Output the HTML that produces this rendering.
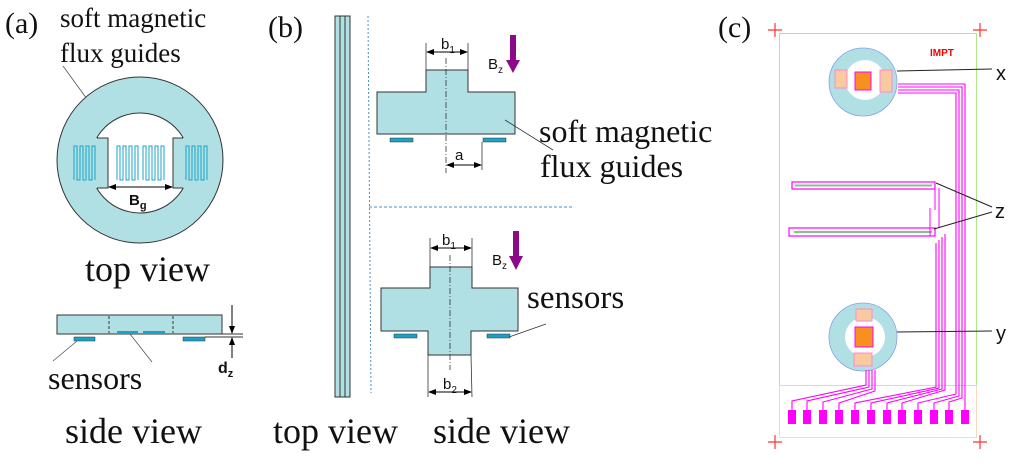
<!DOCTYPE html>
<html><head><style>body{margin:0;background:#fff}svg{display:block}</style></head><body>
<svg width="1024" height="467" viewBox="0 0 1024 467" xmlns="http://www.w3.org/2000/svg">
<defs>
<marker id="ah" markerWidth="8" markerHeight="6" refX="7" refY="3" orient="auto" markerUnits="userSpaceOnUse"><path d="M0,0L8,3L0,6z" fill="#000"/></marker>
<marker id="ahs" markerWidth="8" markerHeight="6" refX="1" refY="3" orient="auto" markerUnits="userSpaceOnUse"><path d="M8,0L0,3L8,6z" fill="#000"/></marker>
</defs>
<g font-family="Liberation Serif, serif" fill="#111">
<!-- (a) -->
<text x="5" y="33" font-size="30">(a)</text>
<text x="60" y="27" font-size="27">soft magnetic</text>
<text x="60" y="62" font-size="27">flux guides</text>
<line x1="63" y1="66" x2="95" y2="110" stroke="#555" stroke-width="0.8"/>
<circle cx="140" cy="160" r="83" fill="#b0e0e3" stroke="#333" stroke-width="1"/>
<circle cx="140" cy="163" r="50" fill="#fff" stroke="#333" stroke-width="1"/>
<rect x="88" y="138" width="20" height="50" fill="#b0e0e3"/>
<rect x="173" y="138" width="20" height="50" fill="#b0e0e3"/>
<path d="M97,138H108V188H97M183,138H173V188H183" fill="none" stroke="#333"/>
<g fill="none" stroke="#19a3c8" stroke-width="1">
<path d="M74,180V146H77V180H80V146H83V180H86V146H89V180H92V146H95V180"/>
<path d="M117,180V146H120V180H123V146H126V180H129V146H132V180H135V146H138V180"/>
<path d="M143,180V146H146V180H149V146H152V180H155V146H158V180H161V146H164V180"/>
<path d="M186,180V146H189V180H192V146H195V180H198V146H201V180H204V146H207V180"/>
</g>
<line x1="109" y1="187" x2="172" y2="187" stroke="#000" marker-end="url(#ah)" marker-start="url(#ahs)"/>
<text x="129" y="205" font-family="Liberation Sans, sans-serif" font-weight="bold" font-size="15">B<tspan font-size="11" dy="4">g</tspan></text>
<text x="85" y="281" font-size="36">top view</text>
<rect x="57" y="315" width="165" height="19" fill="#b0e0e3" stroke="#333"/>
<line x1="109" y1="316" x2="109" y2="333" stroke="#333" stroke-dasharray="3,2"/>
<line x1="173" y1="316" x2="173" y2="333" stroke="#333" stroke-dasharray="3,2"/>
<rect x="74" y="337" width="21" height="4" fill="#19a3c8" stroke="#333" stroke-width="0.5"/>
<rect x="183" y="337" width="22" height="4" fill="#19a3c8" stroke="#333" stroke-width="0.5"/>
<rect x="117" y="331" width="21" height="3" fill="#19a3c8"/>
<rect x="143" y="331" width="22" height="3" fill="#19a3c8"/>
<line x1="77" y1="341" x2="53" y2="361" stroke="#555" stroke-width="0.8"/>
<line x1="130" y1="334" x2="152" y2="362" stroke="#555" stroke-width="0.8"/>
<line x1="222" y1="334" x2="243" y2="334" stroke="#333"/>
<line x1="205" y1="337" x2="243" y2="337" stroke="#333"/>
<line x1="232" y1="305" x2="232" y2="333" stroke="#000" marker-end="url(#ah)"/>
<line x1="232" y1="358" x2="232" y2="338" stroke="#000" marker-end="url(#ah)"/>
<text x="218" y="373" font-family="Liberation Sans, sans-serif" font-weight="bold" font-size="16">d<tspan font-size="11" dy="4">z</tspan></text>
<text x="48" y="389" font-size="32">sensors</text>
<text x="65" y="443" font-size="36">side view</text>

<!-- (b) -->
<text x="268" y="37" font-size="30">(b)</text>
<rect x="335" y="16" width="15" height="381" fill="#b0e0e3" stroke="#333"/>
<line x1="340" y1="16" x2="340" y2="397" stroke="#333"/>
<line x1="345" y1="16" x2="345" y2="397" stroke="#333"/>
<line x1="368" y1="16" x2="371" y2="393" stroke="#4a90c8" stroke-dasharray="2,2"/>
<line x1="369" y1="207" x2="573" y2="207" stroke="#4a90c8" stroke-dasharray="3,2"/>
<g font-family="Liberation Sans, sans-serif">
<path d="M426,70H468V92H515V134H377V92H426Z" fill="#b0e0e3" stroke="#333"/>
<rect x="390" y="138" width="23" height="4" fill="#19a3c8" stroke="#333" stroke-width="0.5"/>
<rect x="483" y="138" width="23" height="4" fill="#19a3c8" stroke="#333" stroke-width="0.5"/>
<line x1="446" y1="58" x2="446" y2="173" stroke="#333" stroke-dasharray="6,2,1,2" stroke-width="0.8"/>
<line x1="426" y1="43" x2="426" y2="70" stroke="#333" stroke-width="0.8"/>
<line x1="468" y1="43" x2="468" y2="70" stroke="#333" stroke-width="0.8"/>
<line x1="427" y1="52" x2="467" y2="52" stroke="#000" marker-end="url(#ah)" marker-start="url(#ahs)"/>
<text x="441" y="49" font-size="15">b<tspan font-size="10" dy="4">1</tspan></text>
<text x="488" y="69" font-size="15">B<tspan font-size="10" dy="4">z</tspan></text>
<path d="M510,35H516V60H520L513,73L506,60H510Z" fill="#8a0a8a"/>
<line x1="482" y1="142" x2="482" y2="170" stroke="#333" stroke-width="0.8"/>
<line x1="447" y1="165" x2="481" y2="165" stroke="#000" marker-end="url(#ah)" marker-start="url(#ahs)"/>
<text x="455" y="160" font-size="15">a</text>
<path d="M430,267H472V288H518V331H471V355H428V331H381V288H430Z" fill="#b0e0e3" stroke="#333"/>
<rect x="394" y="334" width="23" height="4" fill="#19a3c8" stroke="#333" stroke-width="0.5"/>
<rect x="487" y="334" width="23" height="4" fill="#19a3c8" stroke="#333" stroke-width="0.5"/>
<line x1="450" y1="255" x2="450" y2="370" stroke="#333" stroke-dasharray="6,2,1,2" stroke-width="0.8"/>
<line x1="430" y1="238" x2="430" y2="267" stroke="#333" stroke-width="0.8"/>
<line x1="472" y1="238" x2="472" y2="267" stroke="#333" stroke-width="0.8"/>
<line x1="431" y1="248" x2="471" y2="248" stroke="#000" marker-end="url(#ah)" marker-start="url(#ahs)"/>
<text x="442" y="245" font-size="15">b<tspan font-size="10" dy="4">1</tspan></text>
<text x="492" y="265" font-size="15">B<tspan font-size="10" dy="4">z</tspan></text>
<path d="M513,231H519V256H523L516,270L509,256H513Z" fill="#8a0a8a"/>
<line x1="428" y1="355" x2="428" y2="397" stroke="#333" stroke-width="0.8"/>
<line x1="471" y1="355" x2="472" y2="397" stroke="#333" stroke-width="0.8"/>
<line x1="429" y1="392" x2="471" y2="392" stroke="#000" marker-end="url(#ah)" marker-start="url(#ahs)"/>
<text x="443" y="389" font-size="15">b<tspan font-size="10" dy="4">2</tspan></text>
</g>
<line x1="505" y1="120" x2="553" y2="150" stroke="#333" stroke-width="0.8"/>
<text x="539" y="142" font-size="32">soft magnetic</text>
<text x="540" y="177" font-size="32">flux guides</text>
<text x="527" y="308" font-size="33">sensors</text>
<line x1="509" y1="337" x2="546" y2="324" stroke="#333" stroke-width="0.8"/>
<text x="273" y="443" font-size="36">top view</text>
<text x="433" y="443" font-size="36">side view</text>

<!-- (c) -->
<text x="718" y="37" font-size="30">(c)</text>
<g stroke="#f33" stroke-width="1.2">
<path d="M768,30h14M775,23v14M973,30h14M980,23v14M768,442h14M775,435v14M973,442h14M980,435v14"/>
</g>
<rect x="779.5" y="33.5" width="197" height="352" fill="none" stroke="#aee88a"/>
<rect x="779.5" y="385.5" width="197" height="52" fill="none" stroke="#f8d8c0"/>
<line x1="780" y1="385.5" x2="976" y2="385.5" stroke="#aef0c8"/>
<text x="930" y="56" font-family="Liberation Sans, sans-serif" font-weight="bold" font-size="10" fill="#e00">IMPT</text>
<!-- x sensor -->
<circle cx="863" cy="82" r="34" fill="#b0e0e3" stroke="#8aa0e8" stroke-width="0.8"/>
<circle cx="865" cy="80" r="20" fill="#fff"/>
<rect x="835" y="70" width="12" height="18" fill="#f9c9a0" stroke="#f8c" />
<rect x="855" y="72" width="16" height="18" fill="#f7901e" stroke="#f0f"/>
<rect x="880" y="70" width="12" height="22" fill="#f9c9a0" stroke="#f8c"/>
<!-- y sensor -->
<circle cx="863" cy="337" r="34" fill="#b0e0e3" stroke="#8aa0e8" stroke-width="0.8"/>
<circle cx="865" cy="337" r="20" fill="#fff"/>
<rect x="856" y="309" width="16" height="12" fill="#f9c9a0" stroke="#f8c"/>
<rect x="855" y="327" width="18" height="20" fill="#f7901e" stroke="#f0f"/>
<rect x="854" y="353" width="18" height="13" fill="#f9c9a0" stroke="#f8c"/>
<!-- z bars -->
<g>
<rect x="792" y="182" width="143" height="7" fill="none" stroke="#f0f" stroke-width="1.2"/>
<line x1="795" y1="185.5" x2="932" y2="185.5" stroke="#8bbf90" stroke-width="2"/>
<rect x="789" y="228" width="146" height="8" fill="none" stroke="#f0f" stroke-width="1.2"/>
<line x1="794" y1="232" x2="932" y2="232" stroke="#8bbf90" stroke-width="2"/>
<path d="M935,182V210M939,188V228M930,208V236" stroke="#f0f" fill="none"/>
</g>
<g fill="none" stroke="#f0f" stroke-width="1.1">
<path d="M898,84H965V410"/>
<path d="M898,87H962V398L949,402V410"/>
<path d="M898,90H959V396L934,403V410"/>
<path d="M898,93H956V394L918,403V410"/>
<path d="M945,234V390L902,403V410"/>
<path d="M942,237V389L887,403V410"/>
<path d="M939,240V388L871,403V410"/>
<path d="M936,243V387L855,403V410"/>
<path d="M866,370V385L792,401V410"/>
<path d="M869,370V387L807,401V410"/>
<path d="M872,370V389L823,402V410"/>
<path d="M875,370V391L839,403V410"/>
</g>
<g fill="#f0f">
<rect x="788" y="410" width="8" height="14"/><rect x="803" y="410" width="8" height="14"/><rect x="819" y="410" width="8" height="14"/><rect x="835" y="410" width="8" height="14"/><rect x="851" y="410" width="8" height="14"/><rect x="867" y="410" width="8" height="14"/><rect x="883" y="410" width="8" height="14"/><rect x="898" y="410" width="8" height="14"/><rect x="914" y="410" width="8" height="14"/><rect x="930" y="410" width="8" height="14"/><rect x="945" y="410" width="8" height="14"/><rect x="961" y="410" width="8" height="14"/>
</g>
<g stroke="#222" stroke-width="1">
<line x1="897" y1="71" x2="992" y2="69"/>
<line x1="936" y1="183" x2="992" y2="207"/>
<line x1="934" y1="229" x2="992" y2="212"/>
<line x1="897" y1="332" x2="992" y2="331"/>
</g>
<g font-family="Liberation Sans, sans-serif" font-size="20" fill="#111">
<text x="996" y="80">x</text>
<text x="995" y="218">z</text>
<text x="996" y="340">y</text>
</g>
</g>
</svg>
</body></html>
